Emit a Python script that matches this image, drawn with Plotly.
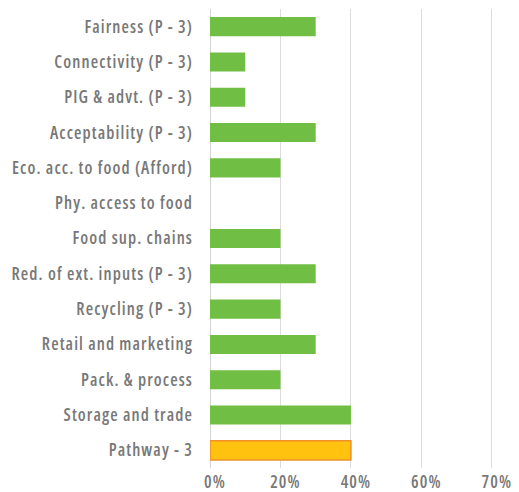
import plotly.graph_objects as go

categories = [
    "Fairness (P - 3)",
    "Connectivity (P - 3)",
    "PIG & advt. (P - 3)",
    "Acceptability (P - 3)",
    "Eco. acc. to food (Afford)",
    "Phy. access to food",
    "Food sup. chains",
    "Red. of ext. inputs (P - 3)",
    "Recycling (P - 3)",
    "Retail and marketing",
    "Pack. & process",
    "Storage and trade",
    "Pathway - 3",
]
values = [30, 10, 10, 30, 20, 0, 20, 30, 20, 30, 20, 40, 40]
tick_vals = [0, 20, 40, 60, 80]
tick_text = ["0%", "20%", "40%", "60%", "70%"]

GREEN = "#70bf44"
GOLD = "#ffc20e"
GOLD_EDGE = "#f0902a"

fill = [GOLD if c.startswith("Pathway") else GREEN for c in categories]
edge = [GOLD_EDGE if c.startswith("Pathway") else GREEN for c in categories]
edge_w = [1.5 if c.startswith("Pathway") else 0 for c in categories]

fig = go.Figure(
    go.Bar(
        x=values,
        y=categories,
        orientation="h",
        marker=dict(color=fill, line=dict(color=edge, width=edge_w)),
        width=0.54,
        hoverinfo="skip",
    )
)

label_font = dict(family="Open Sans", size=17, color="#787878", weight=600)

fig.update_layout(
    width=519,
    height=492,
    margin=dict(l=210, r=0, t=9, b=24),
    paper_bgcolor="white",
    plot_bgcolor="white",
    showlegend=False,
    font=label_font,
    xaxis=dict(
        range=[0, 87.7],
        tickvals=tick_vals,
        ticktext=tick_text,
        tickfont=label_font,
        showgrid=True,
        gridcolor="#dcdcdc",
        gridwidth=1,
        zeroline=False,
        showline=False,
        ticks="",
        ticklabelstandoff=2,
        ticklabelshift=5,
        automargin=False,
        fixedrange=True,
    ),
    yaxis=dict(
        categoryorder="array",
        categoryarray=categories[::-1],
        tickfont=label_font,
        showgrid=False,
        zeroline=False,
        showline=False,
        ticks="",
        ticklabelstandoff=16,
        automargin=False,
        fixedrange=True,
    ),
)

# Vertical baseline at 0%
fig.add_shape(
    type="line", xref="x", yref="paper", x0=0, x1=0, y0=0, y1=1,
    line=dict(color="#d4d4d4", width=2), layer="below",
)

# Condensed, slightly tracked lettering for the axis labels
condense_css = (
    "var s=document.createElement('style');"
    "s.textContent='.xtick text,.ytick text{font-stretch:75% !important;"
    "letter-spacing:1.1px;}';"
    "document.head.appendChild(s);"
)

fig.write_html("out.html", post_script=condense_css)
